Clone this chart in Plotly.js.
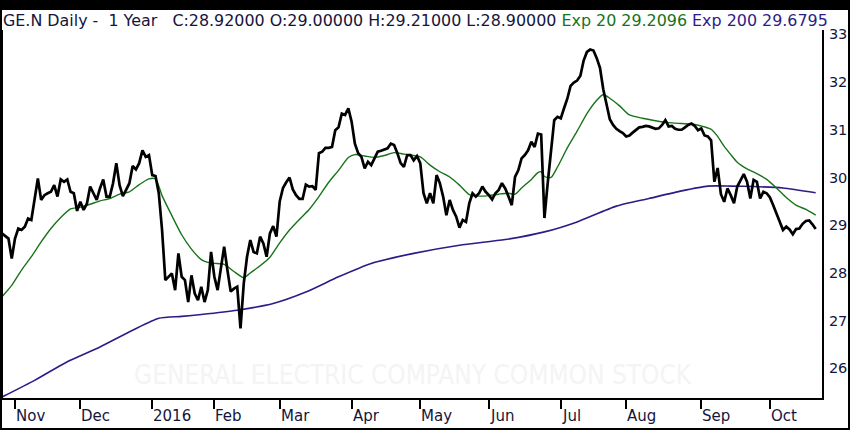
<!DOCTYPE html>
<html>
<head>
<meta charset="utf-8">
<script src="https://cdn.plot.ly/plotly-3.0.1.min.js"></script>
<style>
  html, body { margin: 0; padding: 0; background: #000; width: 850px; height: 430px; overflow: hidden; }
  #chart { position: absolute; left: 2px; top: 10px; width: 846px; height: 418px; background: #fff; }
</style>
</head>
<body>
<div id="chart"></div>
<script>
// ---- data ----
// trading-day index 0 = 27 Oct 2015 ... 249 = 21 Oct 2016
const closes = [
  28.83, 28.78, 28.72, 28.30, 28.72, 28.93, 28.90, 28.97, 29.14, 29.11,
  29.60, 29.98, 29.53, 29.63, 29.67, 29.70, 29.84, 29.60, 29.96, 29.91,
  29.96, 29.70, 29.67, 29.30, 29.49, 29.32, 29.45, 29.81, 29.67, 29.53,
  29.77, 29.96, 29.60, 29.60, 29.88, 30.30, 29.84, 29.61, 29.74, 29.88,
  30.24, 30.17, 30.30, 30.57, 30.43, 30.47, 30.05, 30.03, 29.67, 28.90,
  27.85, 27.92, 27.99, 27.64, 28.41, 27.92, 27.85, 27.39, 27.95, 27.57,
  27.43, 27.71, 27.39, 27.64, 28.44, 27.92, 27.64, 28.10, 28.55, 28.06,
  27.61, 27.67, 27.71, 26.84, 27.78, 28.34, 28.69, 28.44, 28.41, 28.76,
  28.62, 28.34, 28.83, 28.98, 28.76, 29.50, 29.78, 29.90, 30.00, 29.75,
  29.63, 29.55, 29.55, 29.85, 29.81, 29.82, 29.74, 30.51, 30.54, 30.62,
  30.62, 30.64, 30.99, 31.05, 31.34, 31.31, 31.45, 31.17, 30.71, 30.51,
  30.43, 30.19, 30.33, 30.26, 30.40, 30.54, 30.56, 30.59, 30.61, 30.71,
  30.68, 30.51, 30.30, 30.22, 30.47, 30.47, 30.36, 30.45, 30.30, 29.67,
  29.46, 29.67, 29.46, 30.05, 29.88, 29.60, 29.21, 29.53, 29.32, 29.18,
  28.95, 29.11, 29.07, 29.46, 29.67, 29.60, 29.67, 29.81, 29.70, 29.63,
  29.54, 29.67, 29.74, 29.88, 29.77, 29.60, 29.42, 30.01, 30.15, 30.40,
  30.47, 30.57, 30.75, 30.64, 30.92, 30.90, 29.15, 29.88, 30.57, 31.20,
  31.27, 31.24, 31.45, 31.65, 31.92, 31.99, 32.03, 32.13, 32.45, 32.63,
  32.68, 32.66, 32.50, 32.30, 31.85, 31.50, 31.22, 31.10, 31.02, 30.97,
  30.93, 30.86, 30.88, 30.94, 31.00, 31.05, 31.06, 31.08, 31.07, 31.05,
  31.02, 31.03, 31.10, 31.20, 31.07, 31.08, 31.02, 31.00, 31.00, 31.05,
  31.10, 31.13, 31.08, 30.99, 31.03, 30.88, 30.86, 30.78, 29.91, 30.20,
  29.65, 29.49, 29.77, 29.63, 29.46, 29.81, 29.95, 30.07, 29.91, 29.56,
  29.95, 29.91, 29.56, 29.70, 29.67, 29.58, 29.42, 29.25, 29.06, 28.90,
  28.97, 28.91, 28.81, 28.92, 28.93, 29.03, 29.09, 29.10, 29.02, 28.92
];
const days = closes.map((_, i) => i);

const ema20Day = [0, 3, 6, 9, 12, 15, 18, 21, 24, 27, 30, 33, 36, 39, 42, 45, 47, 49, 52, 55, 58, 61, 63, 65, 68, 71, 74, 76, 79, 82, 85, 88, 91, 94, 97, 100, 103, 106, 108, 111, 114, 117, 120, 123, 125, 128, 131, 134, 137, 140, 143, 146, 149, 152, 155, 157, 159, 162, 164, 165, 166, 168, 170, 173, 176, 179, 182, 184, 186, 189, 192, 196, 200, 204, 208, 212, 215, 217, 219, 221, 223, 225, 228, 231, 234, 237, 240, 243, 246, 249];
const ema20Val = [27.50, 27.74, 28.06, 28.34, 28.65, 28.93, 29.16, 29.34, 29.38, 29.44, 29.51, 29.56, 29.65, 29.70, 29.85, 29.97, 29.97, 29.62, 29.20, 28.80, 28.50, 28.28, 28.22, 28.20, 28.18, 28.03, 27.90, 28.00, 28.15, 28.33, 28.63, 28.90, 29.12, 29.33, 29.60, 29.90, 30.15, 30.42, 30.48, 30.45, 30.42, 30.46, 30.52, 30.49, 30.47, 30.43, 30.26, 30.12, 30.01, 29.84, 29.64, 29.61, 29.62, 29.65, 29.67, 29.65, 29.78, 29.96, 30.10, 30.12, 30.02, 30.00, 30.22, 30.62, 30.97, 31.34, 31.62, 31.74, 31.66, 31.50, 31.31, 31.24, 31.19, 31.15, 31.13, 31.11, 31.06, 31.01, 30.86, 30.65, 30.48, 30.32, 30.18, 30.08, 29.96, 29.78, 29.58, 29.42, 29.33, 29.21];

const ema200Day = [0, 10, 20, 30, 40, 48, 55, 61, 72, 83, 93, 103, 113, 126, 140, 154, 166, 176, 188, 198, 208, 216, 223, 230, 239, 249];
const ema200Val = [25.40, 25.75, 26.14, 26.45, 26.80, 27.05, 27.09, 27.13, 27.22, 27.36, 27.60, 27.92, 28.20, 28.41, 28.58, 28.70, 28.86, 29.07, 29.40, 29.56, 29.72, 29.82, 29.82, 29.81, 29.78, 29.68];

const monthDay = [4, 24, 46, 65, 85, 107, 128, 149, 171, 191, 214, 235];
const monthLabels = ['Nov', 'Dec', '2016', 'Feb', 'Mar', 'Apr', 'May', 'Jun', 'Jul', 'Aug', 'Sep', 'Oct'];
const priceTicks = [26, 27, 28, 29, 30, 31, 32, 33];

const headerMain = 'GE.N Daily -\u00A0\u00A01 Year\u00A0\u00A0\u00A0C:28.92000 O:29.00000 H:29.21000 L:28.90000';
const headerEma20 = 'Exp 20 29.2096';
const headerEma200 = 'Exp 200 29.6795';
const watermark = 'GENERAL ELECTRIC COMPANY COMMON STOCK';

// ---- styling ----
const NAVY = '#15153c';
const GREEN = '#17731a';
const PURPLE = '#2c1d86';
const FONT = 'DejaVu Sans';

const traces = [
  { x: ema200Day, y: ema200Val, type: 'scatter', mode: 'lines',
    line: { color: PURPLE, width: 1.6, shape: 'spline', smoothing: 0.6 }, hoverinfo: 'skip' },
  { x: ema20Day, y: ema20Val, type: 'scatter', mode: 'lines',
    line: { color: GREEN, width: 1.4, shape: 'spline', smoothing: 0.6 }, hoverinfo: 'skip' },
  { x: days, y: closes, type: 'scatter', mode: 'lines',
    line: { color: '#000', width: 2.7 }, hoverinfo: 'skip' }
];

const annotations = monthDay.map((d, k) => ({
  x: d, xref: 'x', y: 0, yref: 'paper', xanchor: 'left', yanchor: 'top',
  yshift: -7, xshift: -1, showarrow: false, text: monthLabels[k],
  font: { family: FONT, size: 15, color: NAVY }
}));
annotations.push({
  x: 0, xref: 'paper', y: 1, yref: 'paper', xanchor: 'left', yanchor: 'middle',
  yshift: 10, xshift: -2, showarrow: false,
  text: headerMain + ' <span style="color:' + GREEN + '">' + headerEma20 + '</span> <span style="color:' + PURPLE + '">' + headerEma200 + '</span>',
  font: { family: FONT, size: 15.9, color: NAVY }
});
annotations.push({
  x: 0.5, xref: 'paper', y: 0.0625, yref: 'paper', xanchor: 'center', yanchor: 'middle',
  showarrow: false, text: watermark,
  font: { family: 'DejaVu Sans Condensed', size: 26, color: '#f4f4f4' }
});

const layout = {
  width: 846, height: 418,
  margin: { l: 1, r: 26, t: 20, b: 30, pad: 0 },
  paper_bgcolor: '#fff', plot_bgcolor: '#fff',
  showlegend: false,
  xaxis: {
    range: [0.33, 250.93], showgrid: false, zeroline: false,
    showline: true, linecolor: '#000', linewidth: 2, mirror: false,
    ticks: 'outside', ticklen: 9, tickwidth: 2, tickcolor: '#000',
    tickmode: 'array', tickvals: monthDay, showticklabels: false
  },
  yaxis: {
    range: [25.38, 33.09], side: 'right', showgrid: false, zeroline: false,
    showline: true, linecolor: '#000', linewidth: 2, mirror: true,
    ticks: '', tickmode: 'array', tickvals: priceTicks,
    ticktext: priceTicks.map(String), ticklabelstandoff: 2,
    tickfont: { family: FONT, size: 14.5, color: NAVY }
  },
  annotations: annotations
};

Plotly.newPlot('chart', traces, layout, { staticPlot: true, displayModeBar: false });
</script>
</body>
</html>
